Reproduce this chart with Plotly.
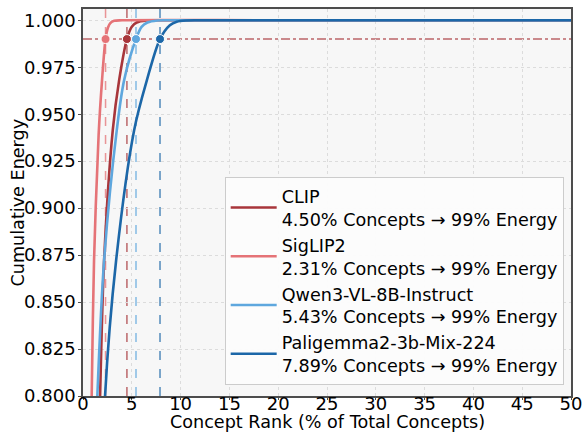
import plotly.graph_objects as go

# ---- data ----
models = ["CLIP", "SigLIP2", "Qwen3-VL-8B-Instruct", "Paligemma2-3b-Mix-224"]
colors = ["#a8363b", "#e57377", "#5ea7de", "#1c67a8"]
thresholds = [4.50, 2.31, 5.43, 7.89]   # % concepts for 99% energy
energy_level = 0.99

clip_x = [1.65, 1.75, 2.16, 3.05, 3.70, 4.50, 5.00, 5.50, 6.50, 8.0, 20.0, 50.0]
clip_y = [0.78, 0.80, 0.872, 0.9415, 0.968, 0.99, 0.9965, 0.9988, 0.9999, 1.0, 1.0, 1.0]

siglip_x = [0.82, 0.89, 1.13, 1.60, 1.95, 2.31, 2.55, 2.80, 3.20, 4.0, 20.0, 50.0]
siglip_y = [0.78, 0.80, 0.872, 0.939, 0.968, 0.99, 0.996, 0.9985, 0.9997, 1.0, 1.0, 1.0]

qwen_x = [1.35, 1.47, 2.16, 3.46, 4.21, 5.43, 6.00, 6.60, 7.60, 9.0, 20.0, 50.0]
qwen_y = [0.78, 0.80, 0.872, 0.9415, 0.968, 0.99, 0.9965, 0.9988, 0.9999, 1.0, 1.0, 1.0]

pali_x = [2.15, 2.26, 3.39, 5.24, 6.54, 7.89, 8.90, 9.60, 10.6, 12.0, 20.0, 50.0]
pali_y = [0.78, 0.80, 0.872, 0.9415, 0.968, 0.99, 0.9973, 0.9992, 0.9999, 1.0, 1.0, 1.0]

xs = [clip_x, siglip_x, qwen_x, pali_x]
ys = [clip_y, siglip_y, qwen_y, pali_y]

x_ticks = list(range(0, 51, 5))
y_ticks = [0.800, 0.825, 0.850, 0.875, 0.900, 0.925, 0.950, 0.975, 1.000]
x_title = "Concept Rank (% of Total Concepts)"
y_title = "Cumulative Energy"

FONT = "DejaVu Sans"
fig = go.Figure()

for name, c, x, y, t in zip(models, colors, xs, ys, thresholds):
    fig.add_trace(go.Scatter(
        x=x, y=y, mode="lines",
        line=dict(color=c, width=2.6, shape="spline", smoothing=0.9),
        name=f"{name}<br>{t:.2f}% Concepts → 99% Energy",
    ))

# threshold lines
for c, t in zip(colors, thresholds):
    fig.add_shape(type="line", xref="x", yref="paper", x0=t, x1=t, y0=0, y1=1,
                  line=dict(color=c, width=1.5, dash="dash"), opacity=0.75, layer="below")
fig.add_shape(type="line", xref="paper", yref="y", x0=0, x1=1, y0=energy_level, y1=energy_level,
              line=dict(color="#a8363b", width=1.5, dash="dashdot"), opacity=0.75, layer="below")

# markers at intersection
for c, t in zip(colors, thresholds):
    fig.add_trace(go.Scatter(
        x=[t], y=[energy_level], mode="markers", showlegend=False,
        marker=dict(color=c, size=9, line=dict(color="white", width=1)),
    ))

axis_common = dict(
    showline=True, mirror=True, linecolor="#4d4d4d", linewidth=1.5,
    ticks="outside", tickwidth=1.2, tickcolor="#4d4d4d",
    showgrid=True, gridcolor="#dcdcdc", griddash="dot", gridwidth=1,
    zeroline=False, tickfont=dict(size=18, color="black", family=FONT),
    automargin=False, ticklabeloverflow="allow",
)

fig.update_xaxes(range=[0, 50], tickvals=x_ticks, ticklen=2, ticklabelstandoff=-11, **axis_common)
fig.update_yaxes(range=[0.8, 1.006], tickvals=y_ticks, tickformat=".3f", ticklen=3,
                 ticklabelstandoff=-1, **axis_common)

fig.add_annotation(text=x_title, xref="paper", yref="paper", x=0.5, y=0,
                   xanchor="center", yanchor="bottom", yshift=-38, showarrow=False,
                   font=dict(size=17.6, family=FONT, color="black"))
fig.add_annotation(text=y_title, xref="paper", yref="paper", x=0, y=0.5, textangle=-90,
                   xanchor="center", yanchor="middle", xshift=-66, showarrow=False,
                   font=dict(size=17.6, family=FONT, color="black"))

fig.update_layout(
    width=582, height=434,
    margin=dict(l=83, r=11, t=9, b=38),
    plot_bgcolor="#f7f7f7", paper_bgcolor="white",
    font=dict(family=FONT, size=17.6, color="black"),
    legend=dict(x=0.985, y=0.028, xanchor="right", yanchor="bottom",
                bgcolor="rgba(252,252,252,0.95)", bordercolor="#cccccc", borderwidth=1,
                font=dict(size=17.6, family=FONT, color="black"), tracegroupgap=0,
                itemwidth=46),
    showlegend=True,
)

fig.write_html("out.html", config={"displayModeBar": False},
               post_script="document.body.style.margin='0';")
